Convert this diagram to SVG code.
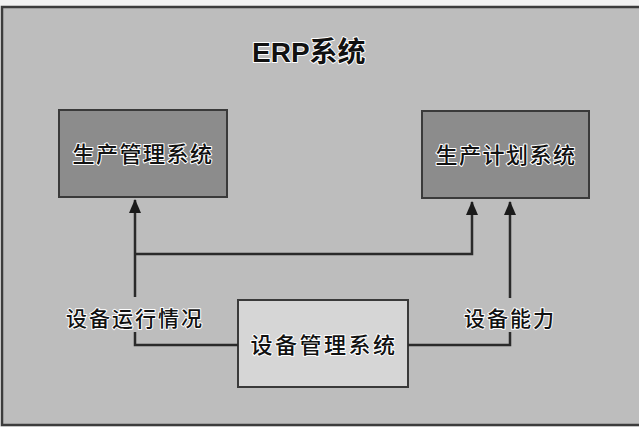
<svg xmlns="http://www.w3.org/2000/svg" width="639" height="427" viewBox="0 0 639 427">
<defs>
<style>
.t{font-family:"Liberation Sans","Noto Sans CJK SC",sans-serif;fill:#111;stroke:#fff;stroke-width:2;paint-order:stroke;stroke-linejoin:round;font-weight:500}
.box{stroke:#3a3a3a;stroke-width:2}
.ln{fill:none;stroke:#2a2a2a;stroke-width:2.5}
</style>
<marker id="ah" markerWidth="14" markerHeight="12" refX="13" refY="6" orient="auto" markerUnits="userSpaceOnUse" viewBox="0 0 14 12">
<path d="M0,0 L14,6 L0,12 Z" fill="#1a1a1a"/>
</marker>
</defs>
<rect x="0" y="0" width="639" height="427" fill="#f2f2f2"/>
<rect x="2" y="7" width="640" height="418" fill="#bdbdbd" stroke="#3c3c3c" stroke-width="2.5"/>
<text class="t" x="252" y="62" font-size="28" font-weight="bold" style="font-weight:bold">ERP系统</text>
<g id="n1">
<rect class="box" x="59" y="110" width="168" height="87" fill="#8c8c8c"/>
<text class="t" x="143" y="162" font-size="22" text-anchor="middle" letter-spacing="1.5">生产管理系统</text>
</g>
<g id="n2">
<rect class="box" x="422" y="111" width="167" height="87" fill="#8c8c8c"/>
<text class="t" x="506" y="163" font-size="22" text-anchor="middle" letter-spacing="1.5">生产计划系统</text>
</g>
<g id="n3">
<rect class="box" x="238" y="300" width="170" height="87" fill="#d6d6d6"/>
<text class="t" x="324" y="353" font-size="22" text-anchor="middle" letter-spacing="2.5">设备管理系统</text>
</g>
<g id="connectors">
<path class="ln" d="M135,297 V200" marker-end="url(#ah)"/>
<path class="ln" d="M238,345 H135 V332"/>
<path class="ln" d="M135,254 H472 V202" marker-end="url(#ah)"/>
<path class="ln" d="M408,345 H510 V332"/>
<path class="ln" d="M510,298 V202" marker-end="url(#ah)"/>
</g>
<text class="t" x="135" y="326" font-size="21" text-anchor="middle" letter-spacing="2">设备运行情况</text>
<text class="t" x="510" y="326" font-size="21" text-anchor="middle" letter-spacing="2">设备能力</text>
</svg>
